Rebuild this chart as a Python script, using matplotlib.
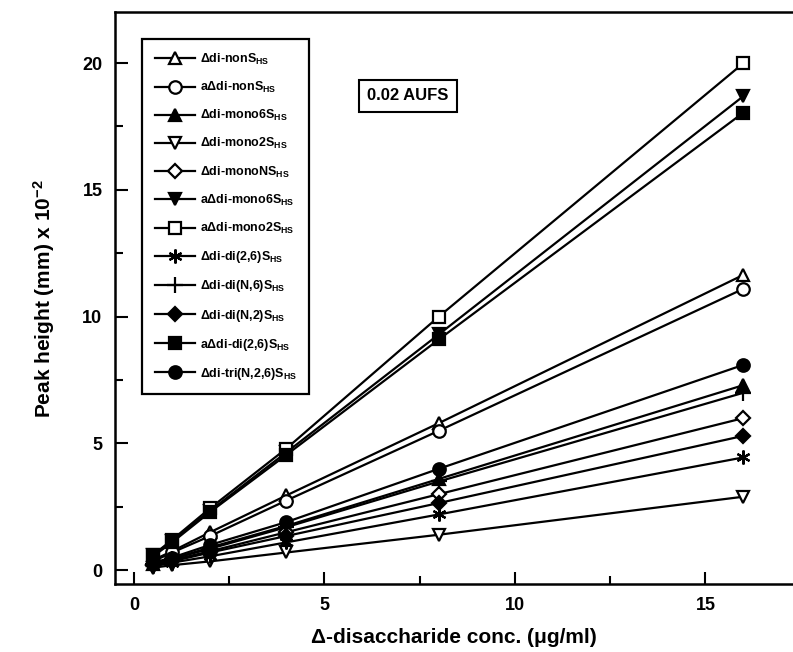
import numpy as np
import matplotlib
matplotlib.use("Agg")
import matplotlib.pyplot as plt
from matplotlib.ticker import MultipleLocator

plt.rcParams['font.family'] = ['Liberation Sans', 'DejaVu Sans']
plt.rcParams['font.weight'] = 'bold'
plt.rcParams['mathtext.fontset'] = 'custom'
plt.rcParams['mathtext.rm'] = 'Liberation Sans:bold'
plt.rcParams['mathtext.bf'] = 'Liberation Sans:bold'
plt.rcParams['mathtext.it'] = 'Liberation Sans:bold'

# concentrations (ug/ml)
conc = [0.5, 1, 2, 4, 8, 16]

# peak heights (mm x 10^-2)
di_nonS = [0.4, 0.75, 1.5, 2.95, 5.8, 11.65]
a_di_nonS = [0.35, 0.7, 1.35, 2.75, 5.5, 11.1]
di_mono6S = [0.25, 0.45, 0.9, 1.75, 3.6, 7.3]
di_mono2S = [0.1, 0.2, 0.35, 0.7, 1.4, 2.9]
di_monoNS = [0.2, 0.4, 0.75, 1.5, 3.0, 6.0]
a_di_mono6S = [0.6, 1.15, 2.35, 4.65, 9.3, 18.7]
a_di_mono2S = [0.6, 1.2, 2.45, 4.8, 10.0, 20.0]
di_di26S = [0.15, 0.3, 0.55, 1.1, 2.2, 4.45]
di_diN6S = [0.25, 0.45, 0.85, 1.7, 3.5, 7.0]
di_diN2S = [0.2, 0.35, 0.7, 1.35, 2.65, 5.3]
a_di_di26S = [0.55, 1.1, 2.3, 4.55, 9.1, 18.05]
di_triS = [0.3, 0.5, 1.0, 1.9, 4.0, 8.1]

series = [
    (di_nonS, 'Δdi-nonS', '^', 'white'),
    (a_di_nonS, 'aΔdi-nonS', 'o', 'white'),
    (di_mono6S, 'Δdi-mono6S', '^', 'black'),
    (di_mono2S, 'Δdi-mono2S', 'v', 'white'),
    (di_monoNS, 'Δdi-monoNS', 'D', 'white'),
    (a_di_mono6S, 'aΔdi-mono6S', 'v', 'black'),
    (a_di_mono2S, 'aΔdi-mono2S', 's', 'white'),
    (di_di26S, 'Δdi-di(2,6)S', '*', 'black'),
    (di_diN6S, 'Δdi-di(N,6)S', '+', 'black'),
    (di_diN2S, 'Δdi-di(N,2)S', 'D', 'black'),
    (a_di_di26S, 'aΔdi-di(2,6)S', 's', 'black'),
    (di_triS, 'Δdi-tri(N,2,6)S', 'o', 'black'),
]

fig = plt.figure(figsize=(7.93, 6.52), dpi=100)
ax = fig.add_axes([0.145, 0.104, 0.855, 0.877])

for vals, name, mk, fc in series:
    ms = 9
    if mk == 'D':
        ms = 7
    if mk == '*':
        mk = (6, 2, 0)
        ms = 10
    if mk == '+':
        ms = 11
    ax.plot(conc, vals, color='black', lw=1.6, marker=mk, markersize=ms,
            markerfacecolor=fc, markeredgecolor='black', markeredgewidth=1.6,
            label=name + '$_{\\mathregular{HS}}$')

ax.set_xlim(-0.5, 17.3)
ax.set_ylim(-0.55, 22)
ax.xaxis.set_major_locator(MultipleLocator(5))
ax.xaxis.set_minor_locator(MultipleLocator(2.5))
ax.yaxis.set_major_locator(MultipleLocator(5))
ax.yaxis.set_minor_locator(MultipleLocator(2.5))
ax.tick_params(which='both', direction='in', width=1.5, labelsize=13, pad=9,
               top=False, right=False)
ax.tick_params(which='major', length=9)
ax.tick_params(which='minor', length=6)
for lab in ax.get_xticklabels() + ax.get_yticklabels():
    lab.set_fontweight('bold')
for s in ['left', 'bottom', 'top']:
    ax.spines[s].set_linewidth(1.8)
ax.spines['right'].set_visible(False)

ax.set_xlabel('Δ-disaccharide conc. (μg/ml)', fontsize=15, fontweight='bold', labelpad=10)
ax.set_ylabel('Peak height (mm) x 10$^{\\mathregular{-2}}$', fontsize=15, fontweight='bold', labelpad=18)

leg = ax.legend(loc='upper left', bbox_to_anchor=(0.031, 0.964), fontsize=9,
                handlelength=3.2, labelspacing=1.05, borderpad=1.0,
                handletextpad=0.4, fancybox=False, edgecolor='black',
                framealpha=1)
leg.get_frame().set_linewidth(1.6)
for t in leg.get_texts():
    t.set_fontweight('bold')

ax.text(0.432, 0.854, '0.02 AUFS', transform=ax.transAxes, fontsize=12,
        fontweight='bold', ha='center', va='center',
        bbox=dict(boxstyle='square,pad=0.5', facecolor='white', edgecolor='black', linewidth=1.5))

plt.savefig('out.png', dpi=100)
